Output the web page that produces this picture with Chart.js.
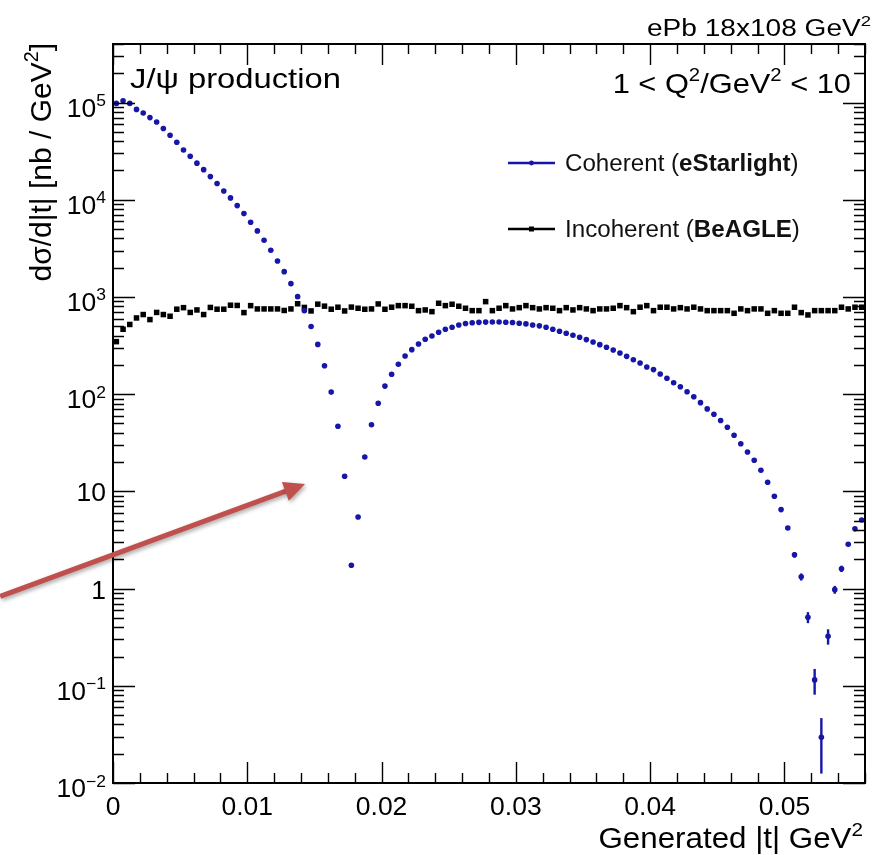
<!DOCTYPE html>
<html>
<head>
<meta charset="utf-8">
<script src="https://cdn.jsdelivr.net/npm/chart.js@4.4.1/dist/chart.umd.min.js"></script>
<style>
  html, body { margin: 0; padding: 0; background: #ffffff; }
  #wrap { width: 874px; height: 855px; }
</style>
</head>
<body>
<div id="wrap"><canvas id="c" width="874" height="855"></canvas></div>
<script>
// ---------------- data ----------------
// |t| bin centres (GeV^2), bins of 0.0005
const tBins = [
  0.00025,0.00075,0.00125,0.00175,0.00225,0.00275,0.00325,0.00375,0.00425,0.00475,
  0.00525,0.00575,0.00625,0.00675,0.00725,0.00775,0.00825,0.00875,0.00925,0.00975,
  0.01025,0.01075,0.01125,0.01175,0.01225,0.01275,0.01325,0.01375,0.01425,0.01475,
  0.01525,0.01575,0.01625,0.01675,0.01725,0.01775,0.01825,0.01875,0.01925,0.01975,
  0.02025,0.02075,0.02125,0.02175,0.02225,0.02275,0.02325,0.02375,0.02425,0.02475,
  0.02525,0.02575,0.02625,0.02675,0.02725,0.02775,0.02825,0.02875,0.02925,0.02975,
  0.03025,0.03075,0.03125,0.03175,0.03225,0.03275,0.03325,0.03375,0.03425,0.03475,
  0.03525,0.03575,0.03625,0.03675,0.03725,0.03775,0.03825,0.03875,0.03925,0.03975,
  0.04025,0.04075,0.04125,0.04175,0.04225,0.04275,0.04325,0.04375,0.04425,0.04475,
  0.04525,0.04575,0.04625,0.04675,0.04725,0.04775,0.04825,0.04875,0.04925,0.04975,
  0.05025,0.05075,0.05125,0.05175,0.05225,0.05275,0.05325,0.05375,0.05425,0.05475,
  0.05525,0.05575
];
// Coherent (eStarlight) dσ/d|t| [nb/GeV^2]
const coherent = [
  98000,104000,98000,85000,78000,70000,63000,54000,46000,39000,
  32500,28000,23800,20400,17300,14700,12300,10450,8700,7200,
  5870,4780,3830,3020,2340,1820,1370,1007,723,497,
  325,196,105,46.8,14.3,1.74,5.45,22.6,48.5,80.5,
  121,160,203,247,287,328,367,397,433,465,
  488,515,533,543,548,551,553,553,549,546,
  537,528,515,504,488,465,444,423,404,385,
  364,344,323,304,285,265,245,226,209,190,
  179,161,146,131,119,106,94.2,81.8,70.5,62.1,
  53.6,45.7,37.8,30.9,25.4,20.9,16.5,12.4,8.91,6.49,
  4.20,2.23,1.32,0.507,0.115,0.0295,0.323,0.975,1.60,2.86,
  4.13,5.08
];
// Incoherent (BeAGLE) dσ/d|t| [nb/GeV^2]
const incoherent = [
  347,465,521,608,659,585,693,659,633,748,
  776,693,735,659,780,748,748,822,818,690,
  814,753,753,753,753,726,753,851,780,718,
  843,804,748,784,718,786,765,747,753,847,
  747,784,814,814,802,723,735,706,861,814,
  841,802,765,723,723,895,723,765,814,753,
  776,814,776,753,776,765,723,776,735,776,
  753,723,753,753,765,814,776,706,784,814,
  723,784,784,753,776,753,784,753,723,723,
  723,723,679,753,723,753,753,679,723,679,
  679,784,690,653,723,723,723,723,784,753,
  784,784
];
// statistical errors visible on the coherent series (bin index -> error)
const cohErrBins   = [101, 102, 103, 104, 105, 106, 107, 108];
const cohErrValues = [0.15, 0.11, 0.066, 0.034, 0.017, 0.058, 0.09, 0.12];

// axis ticks
const xTicks      = [0, 0.01, 0.02, 0.03, 0.04, 0.05];
const xTickLabels = ['0', '0.01', '0.02', '0.03', '0.04', '0.05'];
const yTicks      = [0.01, 0.1, 1, 10, 100, 1000, 10000, 100000];
const yTickBase   = ['10', '10', '1', '10', '10', '10', '10', '10'];
const yTickExp    = ['\u22122', '\u22121', '', '', '2', '3', '4', '5'];

const xMin = 0, xMax = 0.056, xMinorStep = 0.002;
const yMin = 0.01, yMax = 4e5;

// annotation arrow (data coordinates)
const arrowFrom = { t: -0.0084, v: 0.83 };
const arrowTo   = { t: 0.0143, v: 11.9 };

// ---------------- drawing ----------------
const FONT = '"Liberation Sans", Arial, Helvetica, sans-serif';
const BLUE = '#1616a8';

function fontStr(size, bold) { return (bold ? 'bold ' : '') + size + 'px ' + FONT; }

function richMeasure(ctx, parts, size) {
  let w = 0;
  for (const p of parts) {
    const s = p.sup ? size * 0.66 : size;
    ctx.font = fontStr(s, p.bold);
    w += ctx.measureText(p.t).width;
  }
  return w;
}
// draws text made of parts (superscripts / bold) with an optional horizontal stretch sx
function drawRich(ctx, parts, x, y, size, align, sx) {
  sx = sx || 1;
  const w = richMeasure(ctx, parts, size);
  ctx.save();
  ctx.translate(x, y);
  ctx.scale(sx, 1);
  let cx = align === 'right' ? -w : (align === 'center' ? -w / 2 : 0);
  ctx.textAlign = 'left';
  ctx.textBaseline = 'alphabetic';
  for (const p of parts) {
    const s = p.sup ? size * 0.66 : size;
    ctx.font = fontStr(s, p.bold);
    ctx.fillText(p.t, cx, p.sup ? -size * 0.42 : 0);
    cx += ctx.measureText(p.t).width;
  }
  ctx.restore();
}

const rootPlugin = {
  id: 'rootStyle',
  afterDatasetsDraw(chart) {
    const { ctx, scales: { x, y } } = chart;
    ctx.save();
    ctx.strokeStyle = BLUE;
    ctx.lineWidth = 2.4;
    cohErrBins.forEach((k, i) => {
      const v = coherent[k], e = cohErrValues[i];
      const px = x.getPixelForValue(tBins[k]);
      const lo = Math.max(v - e, yMin);
      ctx.beginPath();
      ctx.moveTo(px, y.getPixelForValue(lo));
      ctx.lineTo(px, y.getPixelForValue(v + e));
      ctx.stroke();
    });
    ctx.restore();
  },
  afterDraw(chart) {
    const { ctx, chartArea: a, scales: { x, y } } = chart;
    ctx.save();
    ctx.fillStyle = '#000';
    ctx.strokeStyle = '#000';

    // ticks
    ctx.lineWidth = 1.4;
    ctx.beginPath();
    const nMinor = Math.round((xMax - xMin) / xMinorStep);
    for (let i = 0; i <= nMinor; i++) {
      const v = xMin + i * xMinorStep;
      const isMajor = Math.abs(v / 0.01 - Math.round(v / 0.01)) < 1e-6;
      const len = isMajor ? 21 : 10;
      const px = Math.round(x.getPixelForValue(v)) + 0.5;
      ctx.moveTo(px, a.bottom); ctx.lineTo(px, a.bottom - len);
      ctx.moveTo(px, a.top); ctx.lineTo(px, a.top + len);
    }
    for (let d = -2; d <= 5; d++) {
      for (let m = 1; m <= 9; m++) {
        const v = m * Math.pow(10, d);
        if (v < yMin || v > yMax) continue;
        const len = m === 1 ? 22 : 11;
        const py = Math.round(y.getPixelForValue(v)) + 0.5;
        ctx.moveTo(a.left, py); ctx.lineTo(a.left + len, py);
        ctx.moveTo(a.right, py); ctx.lineTo(a.right - len, py);
      }
    }
    ctx.stroke();

    // frame
    ctx.lineWidth = 2;
    ctx.strokeRect(a.left, a.top, a.right - a.left, a.bottom - a.top);

    // x tick labels
    xTicks.forEach((v, i) => {
      drawRich(ctx, [{ t: xTickLabels[i] }], x.getPixelForValue(v), a.bottom + 32, 25, 'center', 1.06);
    });

    // y tick labels
    yTicks.forEach((v, i) => {
      const py = y.getPixelForValue(v);
      const parts = [{ t: yTickBase[i] }];
      if (yTickExp[i]) parts.push({ t: yTickExp[i], sup: true });
      const base = yTickExp[i] ? py + 14 : py + 10;
      drawRich(ctx, parts, a.left - 7, base, 25, 'right', 1.06);
    });

    // axis titles
    drawRich(ctx, [{ t: 'Generated |t| GeV' }, { t: '2', sup: true }], a.right - 2, 848, 29, 'right', 1.08);
    ctx.save();
    ctx.translate(51, a.top - 1);
    ctx.rotate(-Math.PI / 2);
    drawRich(ctx, [{ t: 'd\u03c3/d|t| [nb / GeV' }, { t: '2', sup: true }, { t: ']' }], 0, 0, 30, 'right');
    ctx.restore();

    // header and labels
    drawRich(ctx, [{ t: 'ePb 18x108 GeV' }, { t: '2', sup: true }], 871, 36, 23, 'right', 1.22);
    drawRich(ctx, [{ t: 'J/\u03c8 production' }], 130, 88, 28, 'left', 1.17);
    drawRich(ctx, [{ t: '1 < Q' }, { t: '2', sup: true }, { t: '/GeV' }, { t: '2', sup: true }, { t: ' < 10' }], 851, 93, 28, 'right', 1.1);

    // legend
    const legend = [
      { y: 163, color: BLUE, style: 'circle', parts: [{ t: 'Coherent (' }, { t: 'eStarlight', bold: true }, { t: ')' }] },
      { y: 229, color: '#000', style: 'rect', parts: [{ t: 'Incoherent (' }, { t: 'BeAGLE', bold: true }, { t: ')' }] }
    ];
    legend.forEach(L => {
      ctx.strokeStyle = L.color;
      ctx.fillStyle = L.color;
      ctx.lineWidth = 2.6;
      ctx.beginPath();
      ctx.moveTo(508, L.y); ctx.lineTo(555, L.y);
      ctx.stroke();
      if (L.style === 'rect') ctx.fillRect(529, L.y - 2.5, 5, 5);
      else { ctx.beginPath(); ctx.arc(531.5, L.y, 2.4, 0, Math.PI * 2); ctx.fill(); }
      ctx.fillStyle = '#111';
      drawRich(ctx, L.parts, 565, L.y + 8, 23, 'left', 1.05);
    });

    // arrow annotation
    const x0 = x.getPixelForValue(arrowFrom.t), y0 = y.getPixelForValue(arrowFrom.v);
    const x1 = x.getPixelForValue(arrowTo.t), y1 = y.getPixelForValue(arrowTo.v);
    const ang = Math.atan2(y1 - y0, x1 - x0);
    const headLen = 21, headHalf = 10;
    const bx = x1 - headLen * Math.cos(ang), by = y1 - headLen * Math.sin(ang);
    ctx.shadowColor = 'rgba(0,0,0,0.35)';
    ctx.shadowBlur = 4;
    ctx.shadowOffsetX = 1.5;
    ctx.shadowOffsetY = 2;
    ctx.strokeStyle = '#c0504d';
    ctx.fillStyle = '#c0504d';
    ctx.lineWidth = 5;
    ctx.lineCap = 'butt';
    ctx.beginPath();
    ctx.moveTo(x0, y0); ctx.lineTo(bx + 2 * Math.cos(ang), by + 2 * Math.sin(ang));
    ctx.stroke();
    ctx.beginPath();
    ctx.moveTo(x1, y1);
    ctx.lineTo(bx + headHalf * Math.sin(ang), by - headHalf * Math.cos(ang));
    ctx.lineTo(bx - headHalf * Math.sin(ang), by + headHalf * Math.cos(ang));
    ctx.closePath();
    ctx.fill();
    ctx.restore();
  }
};

new Chart(document.getElementById('c'), {
  type: 'scatter',
  data: {
    datasets: [
      {
        label: 'Coherent (eStarlight)',
        data: tBins.map((t, i) => ({ x: t, y: coherent[i] })),
        showLine: false,
        pointStyle: 'circle',
        pointRadius: 2.8,
        pointBorderWidth: 0,
        pointBackgroundColor: BLUE,
        pointBorderColor: BLUE
      },
      {
        label: 'Incoherent (BeAGLE)',
        data: tBins.map((t, i) => ({ x: t, y: incoherent[i] })),
        showLine: false,
        pointStyle: 'rect',
        pointRadius: 3.9,
        pointBorderWidth: 0,
        pointBackgroundColor: '#000',
        pointBorderColor: '#000'
      }
    ]
  },
  options: {
    responsive: false,
    devicePixelRatio: 1,
    animation: false,
    events: [],
    layout: { padding: { left: 113, top: 44, right: 9, bottom: 72 } },
    plugins: { legend: { display: false }, tooltip: { enabled: false }, title: { display: false } },
    scales: {
      x: { type: 'linear', min: xMin, max: xMax, display: false },
      y: { type: 'logarithmic', min: yMin, max: yMax, display: false }
    }
  },
  plugins: [rootPlugin]
});
</script>
</body>
</html>
